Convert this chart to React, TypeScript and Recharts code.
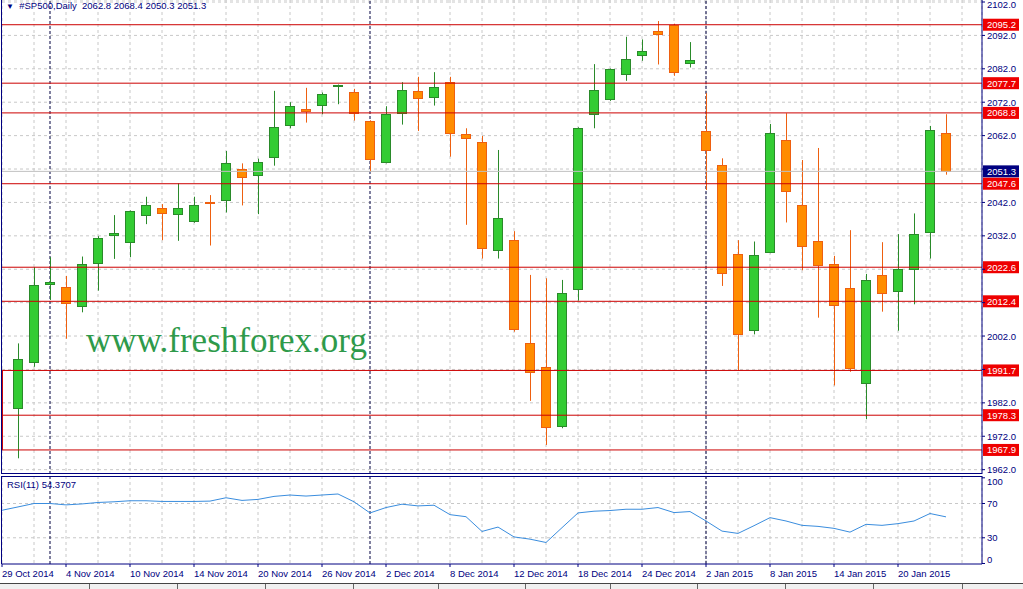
import React from "react";
import {
  ComposedChart,
  Bar,
  Line,
  XAxis,
  YAxis,
  CartesianGrid,
  ReferenceLine,
} from "recharts";

// daily bars, 29 Oct 2014 .. 23 Jan 2015 (first bar is off the left edge)
const dates = [
  "29 Oct 2014", "30 Oct 2014", "31 Oct 2014", "3 Nov 2014", "4 Nov 2014", "5 Nov 2014", "6 Nov 2014", "7 Nov 2014",
  "10 Nov 2014", "11 Nov 2014", "12 Nov 2014", "13 Nov 2014", "14 Nov 2014", "17 Nov 2014", "18 Nov 2014", "19 Nov 2014",
  "20 Nov 2014", "21 Nov 2014", "24 Nov 2014", "25 Nov 2014", "26 Nov 2014", "27 Nov 2014", "28 Nov 2014", "1 Dec 2014",
  "2 Dec 2014", "3 Dec 2014", "4 Dec 2014", "5 Dec 2014", "8 Dec 2014", "9 Dec 2014", "10 Dec 2014", "11 Dec 2014",
  "12 Dec 2014", "15 Dec 2014", "16 Dec 2014", "17 Dec 2014", "18 Dec 2014", "19 Dec 2014", "22 Dec 2014", "23 Dec 2014",
  "24 Dec 2014", "26 Dec 2014", "29 Dec 2014", "30 Dec 2014", "2 Jan 2015", "5 Jan 2015", "6 Jan 2015", "7 Jan 2015",
  "8 Jan 2015", "9 Jan 2015", "12 Jan 2015", "13 Jan 2015", "14 Jan 2015", "15 Jan 2015", "16 Jan 2015", "19 Jan 2015",
  "20 Jan 2015", "21 Jan 2015", "22 Jan 2015", "23 Jan 2015",
];

const opens = [
  null, 1980.4, 1994.1, 2017.6, 2016.6, 2011.1, 2023.8, 2032.1, 2030.2, 2038.1,
  2040.2, 2038.4, 2036.3, 2042.1, 2042.6, 2051.9, 2050.1, 2055.5, 2065.1, 2070.1,
  2071.1, 2077.0, 2075.0, 2066.3, 2054.0, 2068.7, 2075.3, 2073.5, 2078.0, 2062.5,
  2060.0, 2027.7, 2030.9, 1999.8, 1992.6, 1975.0, 2016.0, 2068.4, 2073.0, 2080.4,
  2086.0, 2093.2, 2095.1, 2083.6, 2063.3, 2053.1, 2026.5, 2003.7, 2027.1, 2060.6,
  2041.1, 2030.4, 2023.5, 2016.3, 1987.8, 2020.2, 2015.4, 2022.0, 2033.0, 2062.8,
];
const highs = [
  null, 1999.8, 2022.6, 2025.6, 2020.0, 2025.8, 2031.9, 2038.2, 2039.6, 2043.7,
  2041.5, 2047.7, 2043.7, 2044.2, 2057.4, 2053.7, 2055.1, 2075.4, 2072.0, 2076.3,
  2074.9, 2077.3, 2076.0, 2066.6, 2070.8, 2078.0, 2079.6, 2081.0, 2079.6, 2064.2,
  2061.9, 2057.7, 2033.4, 2020.3, 2019.3, 2018.8, 2064.5, 2083.4, 2082.1, 2091.6,
  2090.8, 2096.3, 2095.5, 2090.0, 2074.7, 2055.2, 2030.7, 2030.3, 2065.5, 2068.7,
  2054.7, 2058.3, 2026.0, 2033.7, 2020.6, 2030.1, 2032.5, 2038.7, 2064.9, 2068.4,
];
const lows = [
  null, 1965.4, 1992.8, 2012.8, 2001.2, 2009.1, 2015.6, 2025.1, 2025.6, 2035.5,
  2030.7, 2030.5, 2035.9, 2029.1, 2039.0, 2041.1, 2038.5, 2053.0, 2064.2, 2065.9,
  2068.4, 2071.4, 2066.5, 2051.2, 2053.7, 2065.3, 2063.4, 2071.0, 2055.7, 2035.3,
  2025.2, 2025.2, 2003.3, 1982.6, 1969.4, 1974.4, 2012.6, 2064.2, 2072.4, 2078.4,
  2084.4, 2083.3, 2079.9, 2082.4, 2045.7, 2017.0, 1991.6, 2002.5, 2026.8, 2036.0,
  2021.7, 2007.5, 1987.2, 1991.3, 1977.1, 2009.3, 2003.6, 2011.5, 2025.2, 2050.3,
];
const closes = [
  null, 1995.0, 2017.2, 2018.2, 2011.8, 2023.6, 2031.3, 2032.9, 2039.3, 2041.1,
  2038.7, 2040.2, 2041.1, 2041.9, 2053.7, 2049.5, 2054.0, 2064.5, 2070.8, 2069.5,
  2074.4, 2077.2, 2068.9, 2055.1, 2068.5, 2075.6, 2073.2, 2076.5, 2062.7, 2061.2,
  2028.3, 2037.2, 2004.0, 1991.1, 1974.7, 2014.8, 2064.2, 2075.6, 2081.8, 2084.8,
  2087.2, 2092.3, 2080.9, 2084.6, 2057.6, 2020.8, 2002.5, 2026.2, 2062.7, 2045.3,
  2028.9, 2023.2, 2011.2, 1992.3, 2018.7, 2014.8, 2022.0, 2032.4, 2063.6, 2051.3,
];
const rsiValues = [
  62.1, 66, 70, 70, 68.4, 69.5, 71.2, 72, 73.2, 73.2,
  72.4, 72.4, 72.4, 72.8, 76.7, 73.6, 74.8, 78.3, 79.9, 78.7,
  79.9, 81.1, 72, 59.0, 65.3, 69.2, 67.2, 68.0, 57.0, 54.6,
  37.4, 42.5, 31.0, 28.4, 24.5, 41.8, 59.0, 61, 61.8, 63.3,
  63.3, 65.3, 59.4, 60.6, 49.6, 37.8, 35.1, 44.1, 53.5, 49.6,
  44.5, 43.3, 41.0, 36.6, 45.7, 44.5, 46.5, 49.6, 58.3, 54.4,
];

const levels = [2095.2, 2077.7, 2068.8, 2047.6, 2022.6, 2012.4, 1991.7, 1978.3, 1967.9];
const lastPrice = 2051.3;
const priceTicks = [1962, 1972, 1982, 1992, 2002, 2012, 2022, 2032, 2042, 2052, 2062, 2072, 2082, 2092, 2102];
const hiddenPriceTicks = [1992, 2012, 2022, 2052];
const rsiTicks = [0, 30, 70, 100];
const labelTicks = [0, 4, 8, 12, 16, 20, 24, 28, 32, 36, 40, 44, 48, 52, 56];
const gridTicks = Array.from({ length: 31 }, (_, k) => k * 2);
const separators = [3, 23, 44];

const rows = dates.map((date, i) => ({
  i,
  date,
  open: opens[i],
  high: highs[i],
  low: lows[i],
  close: closes[i],
  rsi: rsiValues[i],
}));

const NAVY = "#000080";
const GRID = "#C8C8C8";
const LEVEL = "#CC0000";
const SEP = "#000040";
const X_MAX = 61.25;
const PRICE_DOMAIN = [1960.7, 2102.6];
const RSI_DOMAIN = [-0.6, 102.1];
const FONT = '"Liberation Sans", Arial, sans-serif';

const Candle = (props: any) => {
  const { x, y, width, height, payload } = props;
  if (payload.open == null) return null;
  const { open, close, high, low } = payload;
  const bull = close >= open;
  const k = high === low ? 0 : height / (high - low);
  const cx = Math.round(x + width / 2) + 0.5;
  const top = y + (high - Math.max(open, close)) * k;
  const bot = y + (high - Math.min(open, close)) * k;
  const line = bull ? "#2A8A2A" : "#EE6010";
  const fill = bull ? "#33CC33" : "#FF8C00";
  const t = Math.round(top) + 0.5;
  const h = Math.max(Math.round(bot) - Math.round(top), 1);
  return (
    <g>
      <line x1={cx} x2={cx} y1={y} y2={y + height} stroke={line} />
      <rect x={cx - 5} y={t} width={9} height={h} fill={fill} stroke={line} />
    </g>
  );
};

const Tag = (props: any) => {
  const { viewBox, text, fill } = props;
  const x = viewBox.x + viewBox.width + 1;
  const y = viewBox.y;
  return (
    <g>
      <rect x={x} y={y - 6} width={36} height={12} fill={fill} />
      <text x={x + 4} y={y + 3.5} fontSize={9.5} fontFamily={FONT} fill="#fff">
        {text}
      </text>
    </g>
  );
};

const PriceTick = (props: any) => {
  const { x, y, payload } = props;
  if (hiddenPriceTicks.includes(payload.value)) return <g />;
  const shift = payload.value === 2102 ? 2 : 0;
  return (
    <text x={x} y={y + 3.5 + shift} fontSize={9.5} fontFamily={FONT} fill={NAVY} textAnchor="start">
      {payload.value.toFixed(1)}
    </text>
  );
};

const RsiTick = (props: any) => {
  const { x, y, payload } = props;
  const shift = payload.value === 100 ? 4 : payload.value === 0 ? -4 : 0;
  return (
    <text x={x} y={y + 3.5 + shift} fontSize={9.5} fontFamily={FONT} fill={NAVY} textAnchor="start">
      {payload.value}
    </text>
  );
};

const DateTick = (props: any) => {
  const { x, y, payload } = props;
  return (
    <text x={x} y={y + 8} fontSize={9.5} fontFamily={FONT} fill={NAVY} textAnchor="start">
      {dates[payload.value]}
    </text>
  );
};

const box = (left: number, top: number, width: number, height: number, bg: string) => (
  <div style={{ position: "absolute", left, top, width, height, background: bg }} />
);

const layer = (top: number, child: React.ReactNode) => (
  <div style={{ position: "absolute", left: 0, top }}>{child}</div>
);

export default function App() {
  return (
    <div
      style={{
        position: "absolute",
        left: 0,
        top: 0,
        width: 1023,
        height: 589,
        background: "#fff",
        overflow: "hidden",
        fontFamily: FONT,
      }}
    >
      {/* price panel, background layer: grid and period separators */}
      {layer(
        0,
        <ComposedChart width={1023} height={474} data={rows} margin={{ top: 0, right: 41, bottom: 0, left: 2 }}>
          <CartesianGrid stroke={GRID} strokeDasharray="3 3" />
          <XAxis type="number" dataKey="i" domain={[0, X_MAX]} ticks={gridTicks} hide allowDataOverflow />
          <YAxis type="number" domain={PRICE_DOMAIN} ticks={priceTicks} interval={0} hide allowDataOverflow />
          {separators.map((s) => (
            <ReferenceLine key={"s" + s} x={s} stroke={SEP} strokeDasharray="3 2" />
          ))}
        </ComposedChart>
      )}

      <svg width={1023} height={589} style={{ position: "absolute", left: 0, top: 0 }}>
        <text x={86} y={352} fontSize={35} fontFamily='"Liberation Serif", "Times New Roman", serif' fill="#2E9A4A">
          www.freshforex.org
        </text>
      </svg>

      {/* price panel, candles and levels */}
      {layer(
        0,
        <ComposedChart width={1023} height={474} data={rows} margin={{ top: 0, right: 0, bottom: 0, left: 2 }}>
          <XAxis type="number" dataKey="i" domain={[0, X_MAX]} ticks={gridTicks} hide allowDataOverflow />
          <YAxis
            orientation="right"
            type="number"
            domain={PRICE_DOMAIN}
            ticks={priceTicks}
            interval={0}
            width={41}
            allowDataOverflow
            tick={<PriceTick />}
            tickSize={3}
            tickMargin={2}
            axisLine={{ stroke: NAVY }}
            tickLine={{ stroke: NAVY }}
          />
          <Bar
            dataKey={(d: any) => (d.open == null ? null : [d.low, d.high])}
            barSize={9}
            shape={<Candle />}
            isAnimationActive={false}
          />
          <ReferenceLine y={lastPrice} stroke="#C0C0C0" label={<Tag text={lastPrice.toFixed(1)} fill={NAVY} />} />
          {levels.map((l) => (
            <ReferenceLine key={"l" + l} y={l} stroke={LEVEL} label={<Tag text={l.toFixed(1)} fill="#EE0000" />} />
          ))}
          <ReferenceLine
            segment={[
              { x: 0.03, y: levels[8] },
              { x: 0.03, y: levels[6] },
            ]}
            stroke={LEVEL}
          />
        </ComposedChart>
      )}

      {/* RSI panel */}
      {layer(
        476,
        <ComposedChart width={1023} height={108} data={rows} margin={{ top: 0, right: 0, bottom: 0, left: 2 }}>
          <CartesianGrid xAxisId="grid" horizontal={false} stroke={GRID} strokeDasharray="3 3" />
          <XAxis xAxisId="grid" type="number" dataKey="i" domain={[0, X_MAX]} ticks={gridTicks} hide allowDataOverflow />
          <XAxis
            type="number"
            dataKey="i"
            domain={[0, X_MAX]}
            ticks={labelTicks}
            interval={0}
            height={20}
            allowDataOverflow
            tick={<DateTick />}
            tickSize={3}
            tickMargin={2}
            axisLine={{ stroke: NAVY }}
            tickLine={{ stroke: NAVY }}
          />
          <YAxis
            orientation="right"
            type="number"
            domain={RSI_DOMAIN}
            ticks={rsiTicks}
            interval={0}
            width={41}
            allowDataOverflow
            tick={<RsiTick />}
            tickSize={3}
            tickMargin={2}
            axisLine={{ stroke: NAVY }}
            tickLine={{ stroke: NAVY }}
          />
          <ReferenceLine y={70} stroke={GRID} strokeDasharray="3 3" />
          <ReferenceLine y={30} stroke={GRID} strokeDasharray="3 3" />
          {separators.map((s) => (
            <ReferenceLine key={"r" + s} x={s} stroke={SEP} strokeDasharray="3 2" />
          ))}
          <Line type="linear" dataKey="rsi" stroke="#3A8DDE" strokeWidth={1} dot={false} isAnimationActive={false} />
        </ComposedChart>
      )}

      {box(1, 0, 1, 474, NAVY)}
      {box(1, 473, 981, 1, NAVY)}
      {box(1, 476, 981, 1, NAVY)}
      {box(1, 476, 1, 88, NAVY)}

      <div style={{ position: "absolute", left: 6, top: 0, fontSize: 9.5, lineHeight: "12px", color: NAVY, whiteSpace: "pre" }}>
        <span style={{ fontSize: 8 }}>▼</span>{"  #SP500,Daily  2062.8 2068.4 2050.3 2051.3"}
      </div>
      <div style={{ position: "absolute", left: 7, top: 479, fontSize: 9.5, lineHeight: "12px", color: NAVY, whiteSpace: "pre" }}>
        RSI(11) 54.3707
      </div>

      <div style={{ position: "absolute", left: 0, top: 583, width: 1023, height: 6, background: "#F0F0F0", borderTop: "1px solid #444" }} />
      {[89, 177, 265, 353, 438, 525, 610, 697, 785, 873, 962].map((sx) => (
        <div key={sx} style={{ position: "absolute", left: sx, top: 584, width: 1, height: 5, background: "#666" }} />
      ))}
    </div>
  );
}
